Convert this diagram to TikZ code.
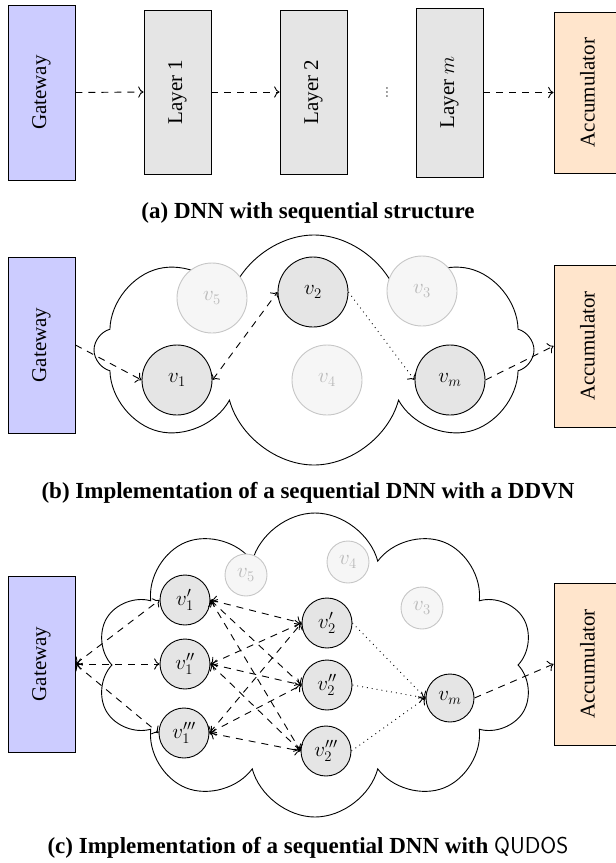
\RequirePackage{fix-cm}
\documentclass[tikz,border=0pt]{standalone}
\usepackage{fontspec}
\setmainfont{Liberation Serif}
\usetikzlibrary{shapes.symbols,arrows.meta}
\begin{document}
\begin{tikzpicture}[x=1pt,y=-1pt,line width=0.9pt,
  >={To[scale=1.5]},
  font=\fontsize{21}{25}\selectfont,
  box/.style={draw,inner sep=0pt,minimum width=67pt},
  gwbox/.style={box,fill=blue!20},
  accbox/.style={box,fill=orange!20},
  layerbox/.style={box,fill=gray!20},
  act/.style={circle,draw,fill=gray!20,inner sep=0pt},
  inact/.style={circle,draw=gray!45,fill=gray!7,text=gray!55,inner sep=0pt},
  cloudshape/.style={cloud,draw,inner sep=0pt},
  dsh/.style={dash pattern=on 7pt off 6pt},
  dtt/.style={dash pattern=on 0.9pt off 4pt},
  captxt/.style={font=\fontsize{23}{27}\selectfont\bfseries}]
\useasboundingbox (0,0) rectangle (616,863);

% (a)
\node[gwbox,minimum height=175pt] (gwA) at (41.5,92.5) {\rotatebox{90}{Gateway}};
\node[layerbox,minimum height=164pt] (l1) at (177.5,92) {\rotatebox{90}{Layer 1}};
\node[layerbox,minimum height=164pt] (l2) at (313.5,92) {\rotatebox{90}{Layer 2}};
\node[layerbox,minimum height=169pt] (lm) at (449.5,92.5) {\rotatebox{90}{Layer $m$}};
\node[accbox,minimum height=161pt] (accA) at (587.5,92.5) {\rotatebox{90}{Accumulator}};
\node[inner sep=0pt] (dots) at (387,92) {\rotatebox{90}{\fontsize{12}{12}\selectfont\dots}};
\draw[->,dsh] (gwA.east) -- (l1.west);
\draw[->,dsh] (l1.east) -- (l2.west);
\draw[->,dsh] (lm.east) -- (accA.west);
\node[captxt] (capA) at (308,213) {(a) DNN with sequential structure};

% (b)
\node[cloudshape,cloud puffs=8,minimum width=440pt,minimum height=230pt] (cloudB) at (314,350) {};
\node[gwbox,minimum height=176pt] (gwB) at (41.5,345) {\rotatebox{90}{Gateway}};
\node[accbox,minimum height=162pt] (accB) at (587.5,346) {\rotatebox{90}{Accumulator}};
\node[inact,minimum size=70pt] (v5) at (212,298) {$v_5$};
\node[act,minimum size=70pt] (v2) at (313,292) {$v_2$};
\node[inact,minimum size=70pt] (v3) at (422,291) {$v_3$};
\node[act,minimum size=70pt] (v1) at (177,380) {$v_1$};
\node[inact,minimum size=70pt] (v4) at (327,380) {$v_4$};
\node[act,minimum size=70pt] (vm) at (450,380) {$v_m$};
\draw[->,dsh] (gwB.east) -- (v1.west);
\draw[<->,dsh] (v1.east) -- (v2.west);
\draw[->,dtt] (v2.east) -- (vm.west);
\draw[->,dsh] (vm.east) -- (accB.west);
\node[captxt] (capB) at (308,493) {(b) Implementation of a sequential DNN with a DDVN};

% (c)
\node[cloudshape,cloud puffs=10,minimum width=438pt,minimum height=304pt] (cloudC) at (315,665) {};
\node[gwbox,minimum height=176pt] (gwC) at (41.5,664) {\rotatebox{90}{Gateway}};
\node[accbox,minimum height=162pt] (accC) at (587.5,664) {\rotatebox{90}{Accumulator}};
\node[inact,minimum size=42pt] (c5) at (246,575) {$v_5$};
\node[inact,minimum size=42pt] (c4) at (348,562) {$v_4$};
\node[inact,minimum size=42pt] (c3) at (422,608) {$v_3$};
\node[act,minimum size=50pt] (a1) at (185,600) {$v_1'$};
\node[act,minimum size=50pt] (a2) at (185,664) {$v_1''$};
\node[act,minimum size=50pt] (a3) at (184,733) {$v_1'''$};
\node[act,minimum size=50pt] (b1) at (327,623) {$v_2'$};
\node[act,minimum size=50pt] (b2) at (327,685) {$v_2''$};
\node[act,minimum size=50pt] (b3) at (326,751) {$v_2'''$};
\node[act,minimum size=48pt] (cm) at (450,698) {$v_m$};
\foreach \t in {a1,a2,a3} \draw[<->,dsh] (gwC.east) -- (\t.west);
\foreach \s in {a1,a2,a3} \foreach \t in {b1,b2,b3} \draw[<->,dsh] (\s.east) -- (\t.west);
\foreach \s in {b1,b2,b3} \draw[->,dtt] (\s.east) -- (cm.west);
\draw[->,dsh] (cm.east) -- (accC.west);
\node[captxt] (capC) at (308,848) {(c) Implementation of a sequential DNN with {\mdseries\sffamily QUDOS}};
\end{tikzpicture}
\end{document}
